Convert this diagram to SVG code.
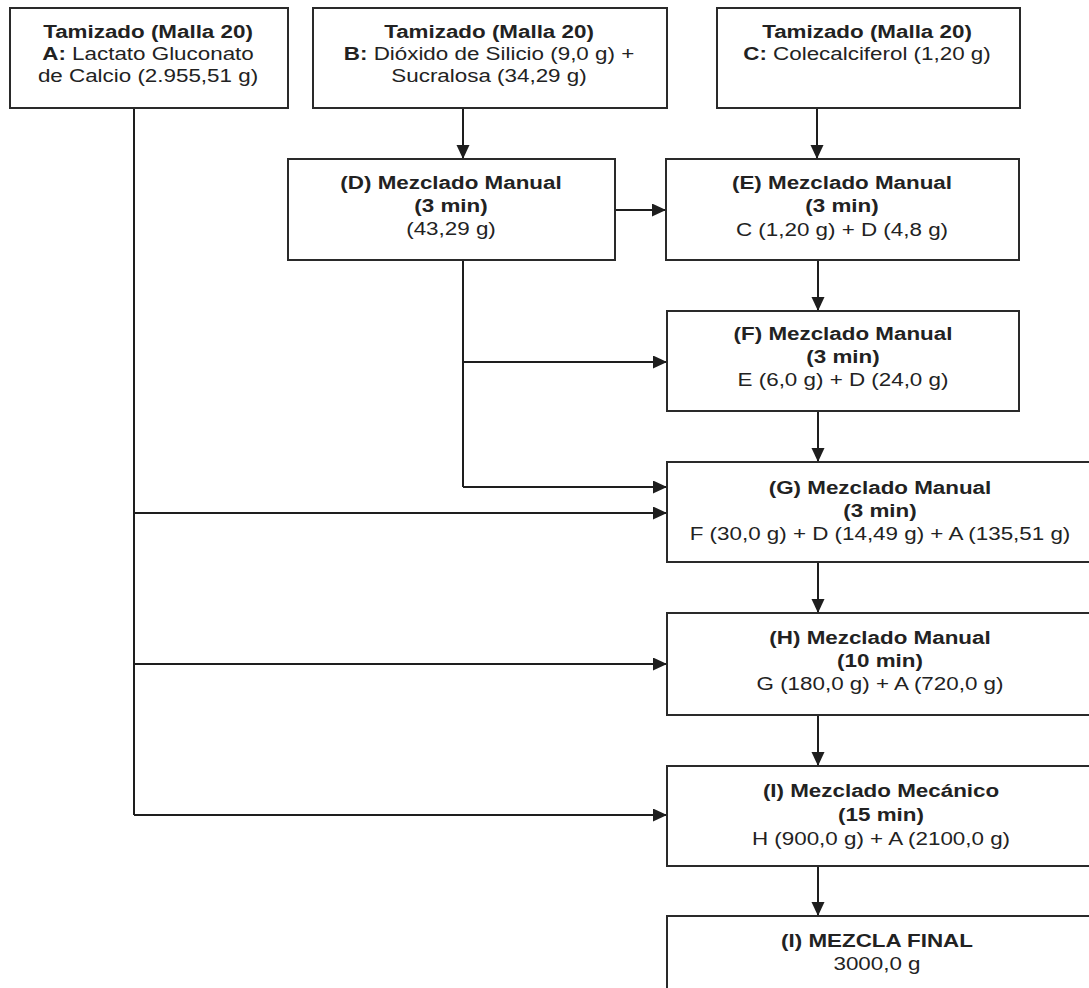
<svg xmlns="http://www.w3.org/2000/svg" width="1089" height="988" viewBox="0 0 1089 988">
<defs>
<marker id="arr" markerUnits="userSpaceOnUse" markerWidth="15" markerHeight="14" refX="14" refY="6.5" orient="auto">
<path d="M0,0 L14,6.5 L0,13 Z" fill="#1e1e1e"/>
</marker>
<style>
.box{fill:#fff;stroke:#2a2a2a;stroke-width:2}
.ln{fill:none;stroke:#1e1e1e;stroke-width:2}
.ar{fill:none;stroke:#1e1e1e;stroke-width:2;marker-end:url(#arr)}
text{font-family:"Liberation Sans",Arial,sans-serif;font-size:17.5px;fill:#222;text-anchor:middle}
.b{font-weight:bold}
</style>
</defs>
<rect width="1089" height="988" fill="#fff"/>
<g id="connectors">
<path class="ar" d="M463,108 V159"/>
<path class="ar" d="M817,108 V159"/>
<path class="ar" d="M615,210 H666"/>
<path class="ar" d="M818,260 V311"/>
<path class="ln" d="M463,260 V487"/>
<path class="ar" d="M463,362 H667"/>
<path class="ar" d="M463,487 H667"/>
<path class="ar" d="M818,411 V462"/>
<path class="ln" d="M134,108 V815"/>
<path class="ar" d="M134,513 H667"/>
<path class="ar" d="M134,664 H667"/>
<path class="ar" d="M134,815 H667"/>
<path class="ar" d="M818,562 V613"/>
<path class="ar" d="M818,715 V766"/>
<path class="ar" d="M818,866 V916"/>
</g>
<g id="nodeA">
<rect class="box" x="10" y="8" width="278" height="100"/>
<g transform="translate(148 0) scale(1.28 1)">
<text y="38" class="b">Tamizado (Malla 20)</text>
<text y="60"><tspan class="b">A:</tspan> Lactato Gluconato</text>
<text y="82">de Calcio (2.955,51 g)</text>
</g>
</g>
<g id="nodeB">
<rect class="box" x="313" y="8" width="354" height="100"/>
<g transform="translate(489 0) scale(1.28 1)">
<text y="38" class="b">Tamizado (Malla 20)</text>
<text y="60"><tspan class="b">B:</tspan> Dióxido de Silicio (9,0 g) +</text>
<text y="82">Sucralosa (34,29 g)</text>
</g>
</g>
<g id="nodeC">
<rect class="box" x="717" y="8" width="303" height="100"/>
<g transform="translate(867 0) scale(1.28 1)">
<text y="38" class="b">Tamizado (Malla 20)</text>
<text y="60"><tspan class="b">C:</tspan> Colecalciferol (1,20 g)</text>
</g>
</g>
<g id="nodeD">
<rect class="box" x="288" y="159" width="327" height="101"/>
<g transform="translate(451 0) scale(1.28 1)">
<text y="189" class="b">(D) Mezclado Manual</text>
<text y="212" class="b">(3 min)</text>
<text y="235">(43,29 g)</text>
</g>
</g>
<g id="nodeE">
<rect class="box" x="666" y="159" width="353" height="101"/>
<g transform="translate(842 0) scale(1.28 1)">
<text y="189" class="b">(E) Mezclado Manual</text>
<text y="212" class="b">(3 min)</text>
<text y="236">C (1,20 g) + D (4,8 g)</text>
</g>
</g>
<g id="nodeF">
<rect class="box" x="667" y="311" width="352" height="100"/>
<g transform="translate(843 0) scale(1.28 1)">
<text y="340" class="b">(F) Mezclado Manual</text>
<text y="363" class="b">(3 min)</text>
<text y="386">E (6,0 g) + D (24,0 g)</text>
</g>
</g>
<g id="nodeG">
<rect class="box" x="667" y="462" width="428" height="100"/>
<g transform="translate(880 0) scale(1.28 1)">
<text y="494" class="b">(G) Mezclado Manual</text>
<text y="517" class="b">(3 min)</text>
<text y="540">F (30,0 g) + D (14,49 g) + A (135,51 g)</text>
</g>
</g>
<g id="nodeH">
<rect class="box" x="667" y="613" width="428" height="102"/>
<g transform="translate(880 0) scale(1.28 1)">
<text y="644" class="b">(H) Mezclado Manual</text>
<text y="667" class="b">(10 min)</text>
<text y="690">G (180,0 g) + A (720,0 g)</text>
</g>
</g>
<g id="nodeI">
<rect class="box" x="667" y="766" width="428" height="100"/>
<g transform="translate(881 0) scale(1.28 1)">
<text y="797" class="b">(I) Mezclado Mecánico</text>
<text y="821" class="b">(15 min)</text>
<text y="845">H (900,0 g) + A (2100,0 g)</text>
</g>
</g>
<g id="nodeFinal">
<rect class="box" x="667" y="916" width="428" height="100"/>
<g transform="translate(877 0) scale(1.28 1)">
<text y="947" class="b">(I) MEZCLA FINAL</text>
<text y="970">3000,0 g</text>
</g>
</g>
</svg>
